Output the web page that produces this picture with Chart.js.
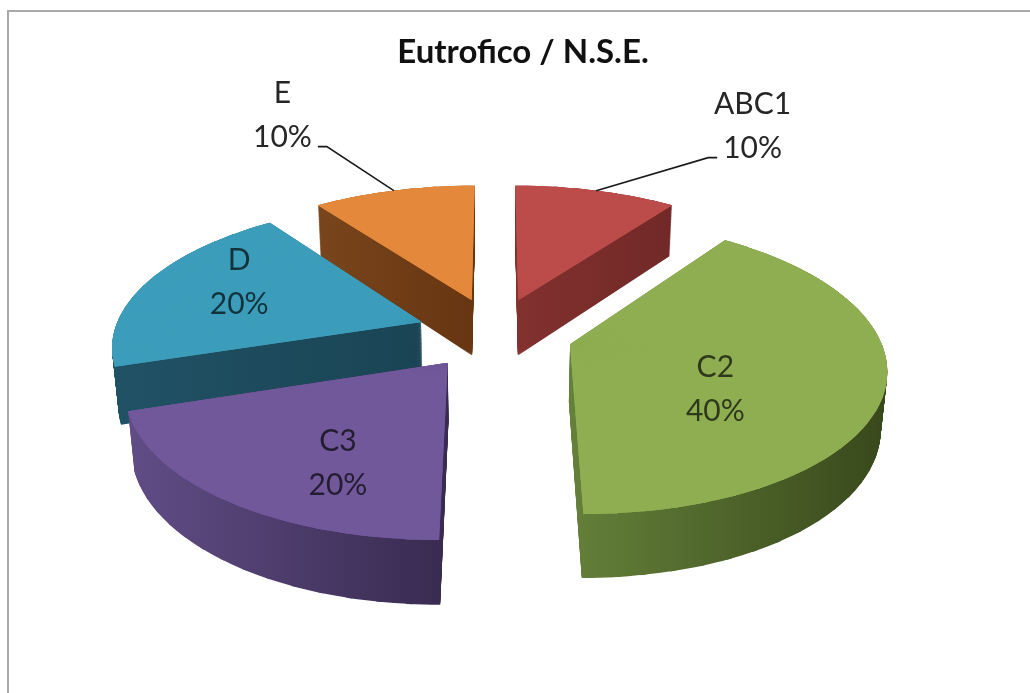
<!DOCTYPE html>
<html>
<head>
<meta charset="utf-8">
<title>Eutrofico / N.S.E.</title>
<script src="https://cdn.jsdelivr.net/npm/chart.js@4.4.1/dist/chart.umd.min.js"></script>
<style>
  html, body { margin: 0; padding: 0; background: #fff; }
  #wrap { position: relative; width: 1030px; height: 693px; overflow: hidden; }
  #frame { position: absolute; left: 7px; top: 10px; width: 1100px; height: 800px;
           border-left: 2px solid #a9a9a9; border-top: 2px solid #a9a9a9; }
  canvas { position: absolute; left: 0; top: 0; }
</style>
</head>
<body>
<div id="wrap">
  <div id="frame"></div>
  <canvas id="pie" width="1030" height="693"></canvas>
</div>
<script>
// Data
const chartTitle = "Eutrofico / N.S.E.";
const categories = ["ABC1", "C2", "C3", "D", "E"];
const shares = [10, 40, 20, 20, 10];

// Styles
const topColors = ["#bb4c49", "#8fae51", "#71589a", "#3c9dbb", "#e4883c"];
const wallColors = [
  ["#82312f", "#712927"],
  ["#64803a", "#38481b"],
  ["#614d86", "#382a50"],
  ["#205265", "#1a4454"],
  ["#78451c", "#673511"]
];
const labelInside = [false, true, true, true, false];
// inside labels: nudge from projected point; outside labels: leader elbow from anchor
const labelShift = [[112, -33], [-24, 19], [4, 28], [-29, -18], [-67, -44]];

// 3D view of the pie (units of the pie radius)
const view = {
  cx: 495, cy: 333, scale: 308,
  tilt: 27.2 * Math.PI / 180, dist: 5.93,
  explode: 0.253, thickness: 0.21
};
const pieceAngle = 5 * Math.PI / 180;

function project(X, Z, Y) {
  const s = Math.sin(view.tilt), c = Math.cos(view.tilt);
  const yc = Z * s + Y * c;
  const zc = view.dist + Z * c - Y * s;
  const k = view.scale * view.dist / zc;
  return [view.cx + X * k, view.cy - yc * k];
}

function explodeOf(arc) {
  const mid = (arc.startAngle + arc.endAngle) / 2;
  return [view.explode * Math.cos(mid), -view.explode * Math.sin(mid), mid];
}

// exact affine map of a thin wedge (tip + two rim points) onto its projection
function wedgeTransform(arc, a0, a1, Y) {
  const [ex, ez] = explodeOf(arc);
  const R = arc.outerRadius;
  const s1 = [R * Math.cos(a0), R * Math.sin(a0)];
  const s2 = [R * Math.cos(a1), R * Math.sin(a1)];
  const t0 = project(ex, ez, Y);
  const t1 = project(ex + Math.cos(a0), ez - Math.sin(a0), Y);
  const t2 = project(ex + Math.cos(a1), ez - Math.sin(a1), Y);
  const T = [t1[0] - t0[0], t2[0] - t0[0], t1[1] - t0[1], t2[1] - t0[1]];
  const det = s1[0] * s2[1] - s2[0] * s1[1];
  const inv = [s2[1] / det, -s2[0] / det, -s1[1] / det, s1[0] / det];
  const a = T[0] * inv[0] + T[1] * inv[2];
  const c = T[0] * inv[1] + T[1] * inv[3];
  const b = T[2] * inv[0] + T[3] * inv[2];
  const d = T[2] * inv[1] + T[3] * inv[3];
  const e = t0[0] - a * arc.x - c * arc.y;
  const f = t0[1] - b * arc.x - d * arc.y;
  return [a, b, c, d, e, f];
}

function drawSlice(ctx, arc, fill, Y) {
  const n = Math.max(1, Math.ceil((arc.endAngle - arc.startAngle) / pieceAngle));
  const step = (arc.endAngle - arc.startAngle) / n;
  const pad = 0.008;
  for (let j = 0; j < n; j++) {
    const a0 = arc.startAngle + j * step, a1 = a0 + step;
    const p0 = j === 0 ? 0 : pad, p1 = j === n - 1 ? 0 : pad;
    const piece = Object.assign(Object.create(Object.getPrototypeOf(arc)), arc);
    piece.startAngle = a0 - p0;
    piece.endAngle = a1 + p1;
    piece.circumference = piece.endAngle - piece.startAngle;
    piece.options = Object.assign({}, arc.options, { backgroundColor: fill, borderWidth: 0, offset: 0 });
    ctx.save();
    ctx.transform(...wedgeTransform(arc, a0, a1, Y));
    piece.draw(ctx);
    ctx.restore();
  }
}

const pie3d = {
  id: "pie3d",
  beforeDatasetsDraw(chart) {
    const ctx = chart.ctx;
    const arcs = chart.getDatasetMeta(0).data;
    const order = arcs.map((a, i) => i).sort((i, j) => explodeOf(arcs[j])[1] - explodeOf(arcs[i])[1]);
    const off = document.createElement("canvas");
    off.width = chart.width; off.height = chart.height;
    const octx = off.getContext("2d");
    const steps = 80;
    order.forEach(i => {
      const arc = arcs[i];
      const [ex, ez] = explodeOf(arc);
      octx.globalCompositeOperation = "source-over";
      octx.clearRect(0, 0, off.width, off.height);
      for (let s = 0; s <= steps; s++) {
        drawSlice(octx, arc, "#000", -view.thickness * (1 - s / steps));
      }
      // screen-space shading of the side walls
      let lo = Infinity, hi = -Infinity;
      for (let k = 0; k <= 24; k++) {
        const a = arc.startAngle + (arc.endAngle - arc.startAngle) * k / 24;
        const p = project(ex + Math.cos(a), ez - Math.sin(a), 0);
        lo = Math.min(lo, p[0]); hi = Math.max(hi, p[0]);
      }
      const tip = project(ex, ez, 0);
      lo = Math.min(lo, tip[0]); hi = Math.max(hi, tip[0]);
      const g = octx.createLinearGradient(lo, 0, hi, 0);
      g.addColorStop(0, wallColors[i][0]);
      g.addColorStop(1, wallColors[i][1]);
      octx.globalCompositeOperation = "source-in";
      octx.fillStyle = g;
      octx.fillRect(0, 0, off.width, off.height);
      ctx.drawImage(off, 0, 0, chart.width, chart.height);
    });
    // top faces, drawn twice to hide seams between wedge pieces
    for (let pass = 0; pass < 2; pass++) {
      order.forEach(i => drawSlice(ctx, arcs[i], topColors[i], 0));
    }
    return false;
  },
  afterDraw(chart) {
    const ctx = chart.ctx;
    const arcs = chart.getDatasetMeta(0).data;
    const total = shares.reduce((a, b) => a + b, 0);
    ctx.save();
    ctx.textAlign = "center";
    ctx.textBaseline = "alphabetic";
    ctx.fillStyle = "#111";
    ctx.font = "bold 33px Lato";
    ctx.fillText(chartTitle, 523, 63);

    ctx.font = "30px Lato";
    arcs.forEach((arc, i) => {
      const [ex, ez, mid] = explodeOf(arc);
      const pct = Math.round(shares[i] / total * 100) + "%";
      const dx = Math.cos(mid), dz = -Math.sin(mid);
      if (labelInside[i]) {
        const p = project(ex + 0.55 * dx, ez + 0.55 * dz, 0);
        const x = p[0] + labelShift[i][0], y = p[1] + labelShift[i][1];
        ctx.fillStyle = "rgba(0,0,0,0.68)";
        ctx.fillText(categories[i], x, y - 11);
        ctx.fillText(pct, x, y + 33);
      } else {
        const a = project(ex + dx, ez + dz, 0);
        const side = dx >= 0 ? 1 : -1;
        const el = [a[0] + labelShift[i][0], a[1] + labelShift[i][1]];
        ctx.strokeStyle = "#1a1a1a";
        ctx.lineWidth = 1.6;
        ctx.beginPath();
        ctx.moveTo(a[0], a[1]);
        ctx.lineTo(el[0], el[1]);
        ctx.lineTo(el[0] + side * 9, el[1]);
        ctx.stroke();
        const w = ctx.measureText(pct).width;
        const tx = el[0] + side * (15 + w / 2);
        ctx.fillStyle = "#262626";
        ctx.fillText(categories[i], tx, el[1] - 44);
        ctx.fillText(pct, tx, el[1]);
      }
    });
    ctx.restore();
  }
};

new Chart(document.getElementById("pie"), {
  type: "pie",
  data: {
    labels: categories,
    datasets: [{ data: shares, backgroundColor: topColors, borderWidth: 0 }]
  },
  options: {
    responsive: false,
    animation: false,
    events: [],
    layout: { padding: 0 },
    plugins: { legend: { display: false }, tooltip: { enabled: false }, title: { display: false } }
  },
  plugins: [pie3d]
});
</script>
</body>
</html>
